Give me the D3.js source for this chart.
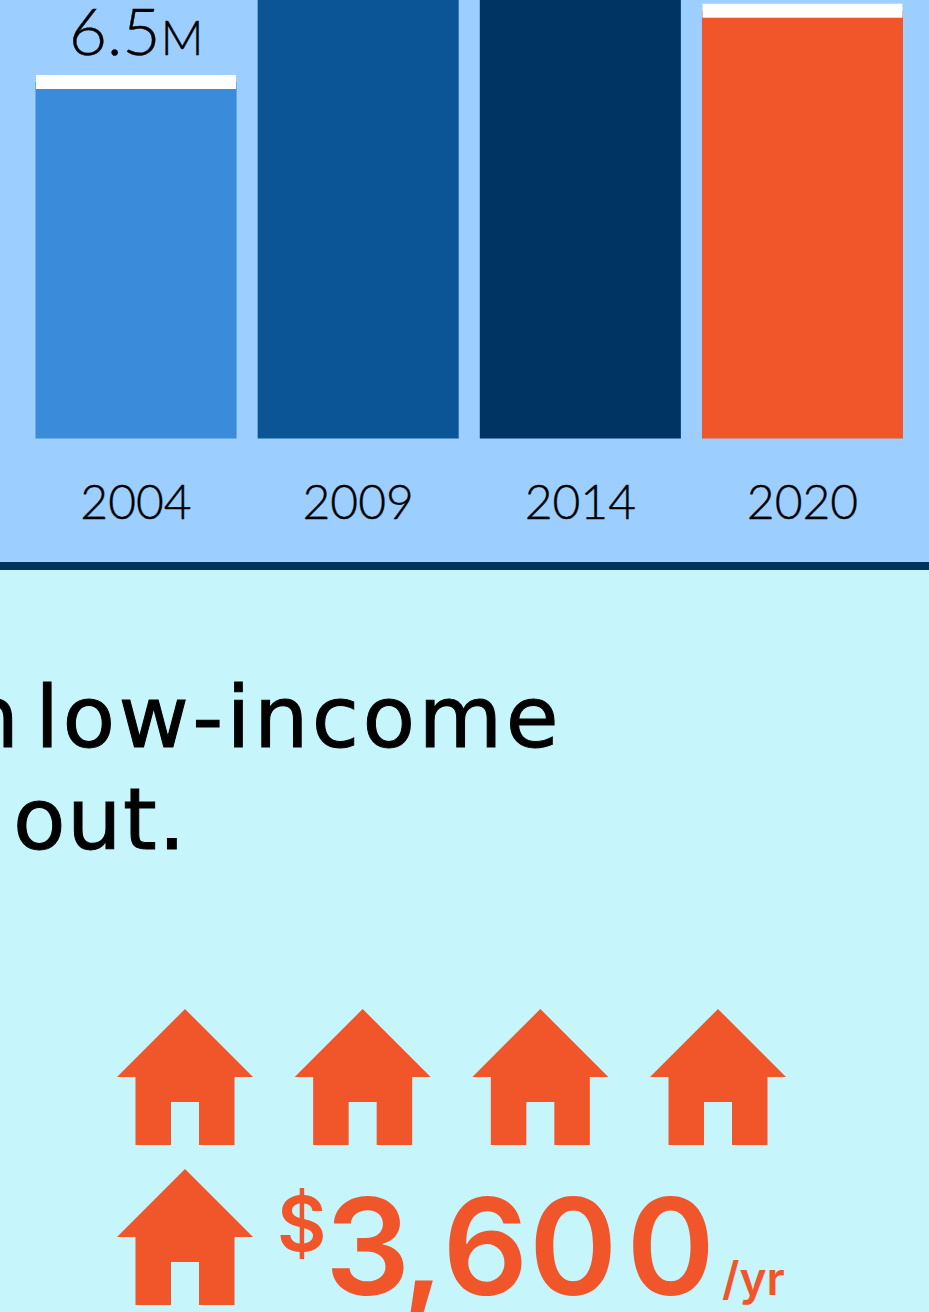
<!DOCTYPE html>
<html>
<head>
<meta charset="utf-8">
<script src="https://cdn.jsdelivr.net/npm/d3@7"></script>
<style>
  html, body { margin: 0; padding: 0; background: #C7F5FC; overflow: hidden; }
  svg { display: block; }
  .bar-text { font-family: Lato, sans-serif; font-weight: 300; fill: #000; stroke: #000; stroke-width: 0.4px; }
  .headline { font-family: "DejaVu Sans", sans-serif; font-size: 86px; letter-spacing: 3.4px; word-spacing: -18px; fill: #000; stroke: #000; stroke-width: 1px; }
  .cost { font-family: Inter, sans-serif; font-weight: 600; fill: #F1562A; }
</style>
</head>
<body>
<div id="chart"></div>
<script>
// Bar chart data (millions). Tops of 2009 and 2014 run off the picture, so those are estimates
const years = ['2004', '2009', '2014', '2020'];
const values = [6.5, 9.0, 9.5, 7.8];
const valueLabels = ['6.5', null, null, null];
const barColors = ['#3A8BD9', '#0B5597', '#003463', '#F1562A'];

// Text lower panel
const headlineLines = ['n low-income', 'out.'];
const houseSlots = [0, 1, 2, 3, 4];

const width = 929;
const height = 1312;

const svg = d3.select('#chart').append('svg')
    .attr('width', width)
    .attr('height', height);

// Panels
svg.append('rect').attr('width', width).attr('height', 566).attr('fill', '#9CCFFF');
svg.append('rect').attr('y', 562).attr('width', width).attr('height', 8).attr('fill', '#00345F');

// Scales
const x = d3.scaleBand()
    .domain(years)
    .range([35.5, 903])
    .paddingInner(0.095);

const y = d3.scaleLinear()
    .domain([0, 6.5])
    .range([438.5, 82]);

// Bars
svg.selectAll('rect.bar')
    .data(years)
    .enter()
    .append('rect')
    .attr('class', 'bar')
    .attr('x', d => x(d))
    .attr('y', (d, i) => y(values[i]))
    .attr('width', x.bandwidth())
    .attr('height', (d, i) => y(0) - y(values[i]))
    .attr('fill', (d, i) => barColors[i]);

// White marker on top of each bar
svg.selectAll('rect.marker')
    .data(years)
    .enter()
    .append('rect')
    .attr('class', 'marker')
    .attr('x', d => x(d) + 0.5)
    .attr('y', (d, i) => y(values[i]) - 7)
    .attr('width', x.bandwidth() - 1)
    .attr('height', 14)
    .attr('fill', '#fff');

// Value labels, only the ones that fall inside the picture
const labels = svg.selectAll('text.value')
    .data(years.filter((d, i) => valueLabels[i]))
    .enter()
    .append('text')
    .attr('class', 'bar-text value')
    .attr('x', d => x(d) + x.bandwidth() / 2)
    .attr('y', d => y(values[years.indexOf(d)]) - 27)
    .attr('text-anchor', 'middle')
    .style('font-size', '66px');
labels.append('tspan').text(d => valueLabels[years.indexOf(d)]);
labels.append('tspan').style('font-size', '47px').text('M');

// Year axis
const axis = svg.append('g')
    .attr('transform', 'translate(0,438.5)')
    .call(d3.axisBottom(x).tickSize(0).tickPadding(46));
axis.select('.domain').remove();
axis.selectAll('text')
    .attr('class', 'bar-text')
    .style('font-family', 'Lato, sans-serif')
    .style('font-weight', 300)
    .style('font-size', '48px')
    .attr('fill', '#000');

// Headline, cut off at the left edge like the source
svg.selectAll('text.headline')
    .data(headlineLines)
    .enter()
    .append('text')
    .attr('class', 'headline')
    .attr('x', (d, i) => i === 0 ? 562 : 13)
    .attr('y', (d, i) => 747 + i * 102)
    .attr('text-anchor', (d, i) => i === 0 ? 'end' : 'start')
    .style('letter-spacing', (d, i) => i === 0 ? '3.4px' : '1.5px')
    .text(d => d);

// Houses: four in the top row, one before the cost in the second
const houseX = d3.scalePoint().domain([0, 1, 2, 3]).range([185, 718]);
const houseY = d3.scalePoint().domain([0, 1]).range([1009, 1169]);
const housePath = 'M0,0L68,68H49.5V136H14V93H-14V136H-49.5V68H-68Z';

svg.selectAll('path.house')
    .data(houseSlots)
    .enter()
    .append('path')
    .attr('class', 'house')
    .attr('d', housePath)
    .attr('transform', d => `translate(${houseX(d % 4)},${houseY(Math.floor(d / 4))})`)
    .attr('fill', '#F1562A');

// Cost
svg.append('text').attr('class', 'cost').attr('x', 277).attr('y', 1251).style('font-size', '76px').text('$');
svg.append('text').attr('class', 'cost').attr('x', 325).attr('y', 1295).attr('dx', '0 -6 2 1 9').style('font-size', '134px').text('3,600');
svg.append('text').attr('class', 'cost').attr('x', 722).attr('y', 1295).style('font-size', '46px').text('/yr');
</script>
</body>
</html>
